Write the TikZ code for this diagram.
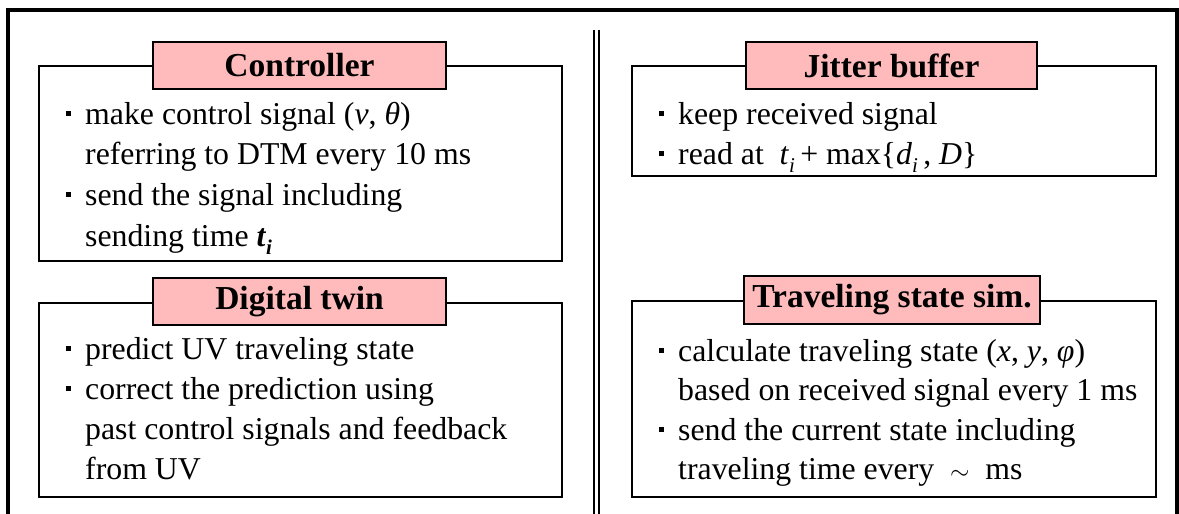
\documentclass[tikz,border=0pt]{standalone}
\usepackage{fontspec}
\setmainfont{Liberation Serif}
\definecolor{tagpink}{RGB}{255,187,187}
% square bullet followed by the gap before the item text
\newcommand\blt{\makebox[19pt][l]{\rule[8pt]{4.5pt}{5pt}}}
% lowered small index
\newcommand\lsub[1]{\raisebox{-0.28em}{\fontsize{21}{21}\selectfont #1}}

\begin{document}
\begin{tikzpicture}[x=1pt,y=-1pt,
  frame/.style={draw,line width=3.2pt},
  panel/.style={draw,line width=2.2pt,rectangle,inner sep=0pt},
  tag/.style={draw,line width=2.2pt,fill=tagpink,rectangle,inner sep=0pt,
    font=\fontsize{33.5}{36}\selectfont\bfseries},
  body/.style={anchor=base west,inner sep=0pt,font=\fontsize{31.8}{35}\selectfont}]
\useasboundingbox (0,0) rectangle (1179,514);

% outer frame and the centre divider
\draw[frame] (8,10) rectangle (1177,540);
\draw[double,double distance=3.7pt,line width=1.3pt] (596.5,30) -- (596.5,530);

% panels
\node[panel,minimum width=523pt,minimum height=195pt] (ctrl) at (300.5,163.5) {};
\node[panel,minimum width=523pt,minimum height=194pt] (twin) at (300.5,400) {};
\node[panel,minimum width=524pt,minimum height=110pt] (jit) at (894,121) {};
\node[panel,minimum width=524pt,minimum height=196pt] (sim) at (894,399) {};

% titles
\node[tag,minimum width=293pt,minimum height=47pt] (ctrlT) at (299.5,65.5) {Controller};
\node[tag,minimum width=293pt,minimum height=47pt] (twinT) at (299.5,301.5) {Digital twin};
\node[tag,minimum width=291pt,minimum height=47pt] (jitT) at (891.5,65.5) {Jitter buffer};
\node[tag,minimum width=296pt,minimum height=48pt] (simT) at (892,300) {Traveling state sim.};

% Controller text
\node[body] (c1) at (66,124) {\blt make control signal (\textit{v}, \textit{θ})};
\node[body] (c2) at (85,164) {referring to DTM every 10 ms};
\node[body] (c3) at (66,205) {\blt send the signal including};
\node[body] (c4) at (85,246) {sending time \textbf{\textit{t}}\lsub{\textbf{\textit{i}}}};

% Jitter buffer text
\node[body] (j1) at (659,124) {\blt keep received signal};
\node[body] (j2) at (659,164) {\blt read at \ \textit{t}\lsub{\textit{i}}\,+ max\{\textit{d}\lsub{\textit{i}}\,, \textit{D}\}};

% Digital twin text
\node[body] (d1) at (66,359) {\blt predict UV traveling state};
\node[body] (d2) at (66,399) {\blt correct the prediction using};
\node[body] (d3) at (85,439) {past control signals and feedback};
\node[body] (d4) at (85,479) {from UV};

% Traveling state sim. text
\node[body] (s1) at (659,361) {\blt calculate traveling state (\textit{x}, \textit{y}, \textit{φ})};
\node[body] (s2) at (678,400) {based on received signal every 1 ms};
\node[body] (s3) at (659,440) {\blt send the current state including};
\node[body] (s4) at (678,479) {traveling time every \ $\sim$ \ ms};
\end{tikzpicture}
\end{document}
